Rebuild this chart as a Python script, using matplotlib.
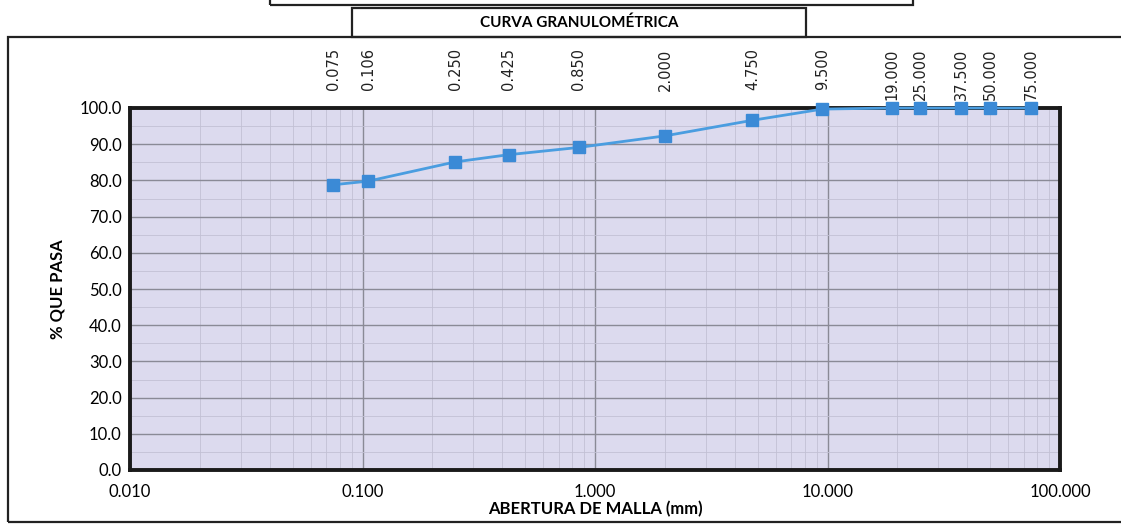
import numpy as np
import matplotlib.pyplot as plt
from matplotlib.patches import Rectangle
from matplotlib.ticker import FixedLocator, NullFormatter

# tamices (mm) y % que pasa
sieves = [0.075, 0.106, 0.250, 0.425, 0.850, 2.000, 4.750, 9.500,
          19.000, 25.000, 37.500, 50.000, 75.000]
passing = [78.8, 79.8, 85.1, 87.1, 89.1, 92.3, 96.6, 99.7,
           100.0, 100.0, 100.0, 100.0, 100.0]
sieve_labels = ["0.075", "0.106", "0.250", "0.425", "0.850", "2.000", "4.750",
                "9.500", "19.000", "25.000", "37.500", "50.000", "75.000"]
x_ticks = [0.01, 0.1, 1, 10, 100]
x_tick_labels = ["0.010", "0.100", "1.000", "10.000", "100.000"]
y_ticks = [0, 10, 20, 30, 40, 50, 60, 70, 80, 90, 100]

narrow = ["Lato", "DejaVu Sans"]

fig = plt.figure(figsize=(11.21, 5.26), dpi=100)
W, H = 1121, 526

def px(x0, y0, w, h):
    return (x0 / W, 1 - (y0 + h) / H, w / W, h / H)

# marcos del formato
for (x0, y0, w, h) in [(270, -10, 643, 15), (352, 8, 454, 29), (8, 37, 1140, 485)]:
    fig.patches.append(Rectangle((x0 / W, 1 - (y0 + h) / H), w / W, h / H,
                                 transform=fig.transFigure, fill=False,
                                 edgecolor="#222222", linewidth=1.6))
fig.text(579 / W, 1 - 23 / H, "CURVA GRANULOMÉTRICA", ha="center", va="center",
         fontsize=11, fontweight="bold", family=narrow)

ax = fig.add_axes(px(130, 108, 930, 362))
ax.set_facecolor("#dcdaee")
ax.set_xscale("log")
ax.set_xlim(0.01, 100)
ax.set_ylim(0, 100)

ax.plot(sieves, passing, color="#4a9de0", linewidth=2, marker="s",
        markersize=9, markerfacecolor="#3b8ad6", markeredgecolor="#3b8ad6",
        zorder=5, clip_on=False)

ax.set_xticks(x_ticks)
ax.set_xticklabels(x_tick_labels, family=narrow, fontsize=12)
ax.xaxis.set_minor_formatter(NullFormatter())
ax.set_yticks(y_ticks)
ax.set_yticklabels([f"{v:.1f}" for v in y_ticks], family=narrow, fontsize=12)
ax.yaxis.set_minor_locator(FixedLocator(np.arange(0, 101, 5)))

ax.grid(True, which="major", color="#8a8a96", linewidth=1.0)
ax.grid(True, which="minor", color="#c2c0d4", linewidth=0.6)
ax.tick_params(which="both", length=0, pad=6)
ax.tick_params(axis="x", pad=10)

for s in ax.spines.values():
    s.set_linewidth(2.8)
    s.set_color("#1a1a1a")

ax.set_xlabel("ABERTURA DE MALLA (mm)", fontsize=12, fontweight="bold",
              family=narrow, labelpad=1)
ax.set_ylabel("% QUE PASA", fontsize=12, fontweight="bold", family=narrow,
              labelpad=10)

# etiquetas de tamices arriba
trans = ax.get_xaxis_transform()
for xv, lab in zip(sieves, sieve_labels):
    ax.text(xv, 1.165, lab, rotation=90, ha="center", va="top", fontsize=10.5,
            family="DejaVu Sans", transform=trans, color="#222222")

fig.savefig("out.png", dpi=100)
